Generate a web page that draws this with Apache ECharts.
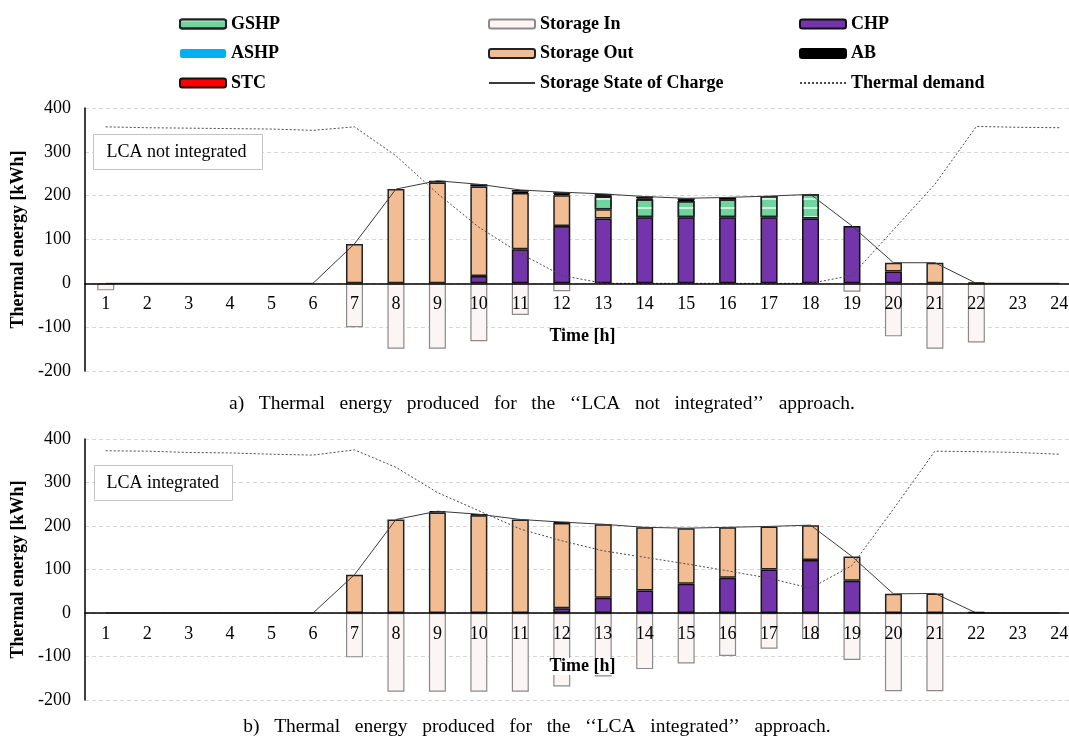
<!DOCTYPE html>
<html>
<head>
<meta charset="utf-8">
<script src="https://cdn.jsdelivr.net/npm/echarts@6/dist/echarts.min.js"></script>
<style>
  html, body { margin: 0; padding: 0; background: #ffffff; }
  #chart { width: 1069px; height: 742px; }
</style>
</head>
<body>
<div id="chart"></div>
<script>
// Hours of the day on the category axis
const hours = ['1','2','3','4','5','6','7','8','9','10','11','12','13','14','15','16','17','18','19','20','21','22','23','24'];
const yTicks = { min: -200, max: 400, step: 100 };

// a) LCA not integrated  [kWh]
const chpA        = [0,0,0,0,0,0,0,0,0,17,78,131,148,151,151,151,151,148,131,27,0,0,0,0];
const storOutA    = [0,0,0,0,0,0,90,215,230,204,128,70,21,0,0,0,0,0,0,20,47,0,0,0];
const gshpA       = [0,0,0,0,0,0,0,0,0,0,0,0,29,40,37,40,48,55,0,0,0,0,0,0];
const ashpA       = [0,0,0,0,0,0,0,0,0,0,0,0,0,0,0,0,0,0,0,0,0,0,0,0];
const abA         = [0,0,0,0,0,0,0,0,4,5,3,3,2,3,2,5,0,0,0,0,0,2,0,0];
const stcA        = [0,0,0,0,0,0,0,0,0,0,4,4,4,4,4,0,0,0,0,0,0,0,0,0];
const storInA     = [-16,0,0,0,0,0,-100,-149,-149,-132,-72,-18,0,0,0,0,0,0,-19,-121,-149,-135,0,0];
const socA        = [0,0,0,0,0,0,90,215,234,226,213,208,204,198,194,196,199,203,131,47,47,0,0,0];
const demandA     = [357,355,354,353,352,349,357,291,205,128,68,18,0,0,0,0,0,0,18,122,226,358,356,355];

// b) LCA integrated  [kWh]
const chpB        = [0,0,0,0,0,0,0,0,0,0,0,11,35,52,67,81,100,122,74,0,0,0,0,0];
const storOutB    = [0,0,0,0,0,0,88,215,231,225,215,196,169,145,128,116,99,80,56,44,45,0,0,0];
const gshpB       = [0,0,0,0,0,0,0,0,0,0,0,0,0,0,0,0,0,0,0,0,0,0,0,0];
const ashpB       = [0,0,0,0,0,0,0,0,0,0,0,0,0,0,0,0,0,0,0,0,0,0,0,0];
const abB         = [0,0,0,0,0,0,0,0,3,2,0,2,0,0,0,0,0,0,0,0,0,2,0,0];
const stcB        = [0,0,0,0,0,0,0,0,0,0,0,0,0,0,0,0,0,0,0,0,0,0,0,0];
const storInB     = [0,0,0,0,0,0,-102,-181,-181,-181,-181,-169,-146,-129,-116,-99,-82,-60,-108,-180,-180,0,0,0];
const socB        = [0,0,0,0,0,0,88,215,234,227,215,209,204,197,195,197,199,202,130,44,45,0,0,0];
const demandB     = [373,372,369,368,365,363,375,335,277,235,193,166,143,128,113,97,80,57,109,239,372,371,369,365];

const SERIF = 'Liberation Serif, Times New Roman, serif';

// empty entries are skipped so they draw no outline
const nz = arr => arr.map(v => (v === 0 ? '-' : v));

const barStyles = {
  'CHP':         { color: '#7434ab', borderColor: '#111', borderWidth: 1.5 },
  'Storage Out': { color: '#f3bd94', borderColor: '#222', borderWidth: 1.5 },
  'GSHP':        { color: '#6fd49d', borderColor: '#222', borderWidth: 1.5,
                   decal: { symbol: 'rect', symbolSize: 1, dashArrayX: [[1, 0]], dashArrayY: [1.2, 6.5],
                            color: 'rgba(255,255,255,0.65)', rotation: 0 } },
  'ASHP':        { color: '#00b0f0', borderWidth: 0 },
  'AB':          { color: '#000000', borderColor: '#000', borderWidth: 1.5 },
  'STC':         { color: '#ff0000', borderColor: '#111', borderWidth: 1.2 },
  'Storage In':  { color: '#fbf6f3', borderColor: '#8a8a8a', borderWidth: 1.2 }
};

function chartSeries(idx, d) {
  const bar = (name, data) => ({
    name, type: 'bar', stack: 'energy' + idx, xAxisIndex: idx, yAxisIndex: idx,
    barWidth: 17, data: nz(data), itemStyle: barStyles[name], z: 2,
    emphasis: { disabled: true }
  });
  return [
    bar('CHP', d.chp),
    bar('Storage Out', d.out),
    bar('GSHP', d.gshp),
    bar('ASHP', d.ashp),
    bar('AB', d.ab),
    bar('STC', d.stc),
    bar('Storage In', d.inn),
    { name: 'Storage State of Charge', type: 'line', xAxisIndex: idx, yAxisIndex: idx,
      data: d.soc, symbol: 'none', showSymbol: false, z: 4,
      itemStyle: { color: '#3a3a3a' },
      lineStyle: { color: '#3a3a3a', width: 1, type: 'solid' } },
    { name: 'Thermal demand', type: 'line', xAxisIndex: idx, yAxisIndex: idx,
      data: d.dem, symbol: 'none', showSymbol: false, z: 4,
      itemStyle: { color: '#4a4a4a' },
      lineStyle: { color: '#4a4a4a', width: 1, type: [2, 2] } }
  ];
}

const grids = [
  { left: 85, width: 995, top: 108, height: 263, outerBoundsMode: 'none', containLabel: false },
  { left: 85, width: 995, top: 439, height: 261, outerBoundsMode: 'none', containLabel: false }
];

// the category axis sits on the zero line: shift it up from the grid bottom
const zeroShift = grids.map(g => -g.height * (0 - yTicks.min) / (yTicks.max - yTicks.min));

const xAxes = grids.map((g, i) => ({
  type: 'category', gridIndex: i, data: hours, z: 10, position: 'bottom', offset: zeroShift[i],
  name: 'Time [h]', nameLocation: 'middle', nameGap: 45,
  nameTextStyle: { fontFamily: SERIF, fontWeight: 'bold', fontSize: 18, color: '#000',
                   backgroundColor: '#ffffff', padding: [0, 1], lineHeight: 17 },
  axisLine: { onZero: false, lineStyle: { color: '#000', width: 1.5 } },
  axisTick: { inside: true, length: 5, lineStyle: { color: '#555' } },
  axisLabel: { fontFamily: SERIF, fontSize: 18, color: '#000', margin: 12 },
  splitLine: { show: false }
}));

const yAxes = grids.map((g, i) => ({
  type: 'value', gridIndex: i, min: yTicks.min, max: yTicks.max, interval: yTicks.step,
  name: 'Thermal energy [kWh]', nameLocation: 'middle', nameGap: 52, nameRotate: 90,
  nameTextStyle: { fontFamily: SERIF, fontWeight: 'bold', fontSize: 18, color: '#000' },
  axisLine: { show: true, onZero: false, lineStyle: { color: '#000', width: 1.5 } },
  axisTick: { show: false },
  axisLabel: { fontFamily: SERIF, fontSize: 18, color: '#000', margin: 14 },
  splitLine: { show: true, lineStyle: { color: '#d6d6d6', type: [4, 3], width: 1 } }
}));

const legendBase = {
  orient: 'vertical', top: 14, padding: 0, itemWidth: 46, itemHeight: 9, itemGap: 9.5,
  textStyle: { fontFamily: SERIF, fontWeight: 'bold', fontSize: 18, color: '#000', lineHeight: 20 },
  selectedMode: false
};
const lineKey = name => ({ name, itemStyle: { opacity: 0 } });

const option = {
  animation: false,
  backgroundColor: '#ffffff',
  grid: grids,
  xAxis: xAxes,
  yAxis: yAxes,
  legend: [
    Object.assign({}, legendBase, { left: 179, data: ['GSHP', 'ASHP', 'STC'] }),
    Object.assign({}, legendBase, { left: 488, data: ['Storage In', 'Storage Out', lineKey('Storage State of Charge')] }),
    Object.assign({}, legendBase, { left: 799, data: ['CHP', 'AB', lineKey('Thermal demand')] })
  ],
  series: [].concat(
    chartSeries(0, { chp: chpA, out: storOutA, gshp: gshpA, ashp: ashpA, ab: abA, stc: stcA, inn: storInA, soc: socA, dem: demandA }),
    chartSeries(1, { chp: chpB, out: storOutB, gshp: gshpB, ashp: ashpB, ab: abB, stc: stcB, inn: storInB, soc: socB, dem: demandB })
  ),
  graphic: [
    { type: 'group', left: 93, top: 134, z: 20, children: [
      { type: 'rect', z: 20, shape: { x: 0, y: 0, width: 169, height: 35 },
        style: { fill: '#fff', stroke: '#c4c4c4', lineWidth: 1 } },
      { type: 'text', z: 21, x: 13, y: 17.5, style: { text: 'LCA not integrated', fill: '#000',
        font: '18px ' + SERIF, verticalAlign: 'middle' } }
    ] },
    { type: 'group', left: 94, top: 465, z: 20, children: [
      { type: 'rect', z: 20, shape: { x: 0, y: 0, width: 138, height: 35 },
        style: { fill: '#fff', stroke: '#c4c4c4', lineWidth: 1 } },
      { type: 'text', z: 21, x: 12, y: 17.5, style: { text: 'LCA integrated', fill: '#000',
        font: '18px ' + SERIF, verticalAlign: 'middle' } }
    ] },
    { type: 'text', x: 542, y: 404, style: {
        text: 'a)   Thermal   energy   produced   for   the   \u2018\u2018LCA   not   integrated\u2019\u2019   approach.',
        fill: '#000', font: '19.5px ' + SERIF, align: 'center', verticalAlign: 'middle' } },
    { type: 'text', x: 537, y: 727, style: {
        text: 'b)   Thermal   energy   produced   for   the   \u2018\u2018LCA   integrated\u2019\u2019   approach.',
        fill: '#000', font: '19.5px ' + SERIF, align: 'center', verticalAlign: 'middle' } }
  ]
};

const chart = echarts.init(document.getElementById('chart'), null, { renderer: 'canvas' });
chart.setOption(option);
</script>
</body>
</html>
